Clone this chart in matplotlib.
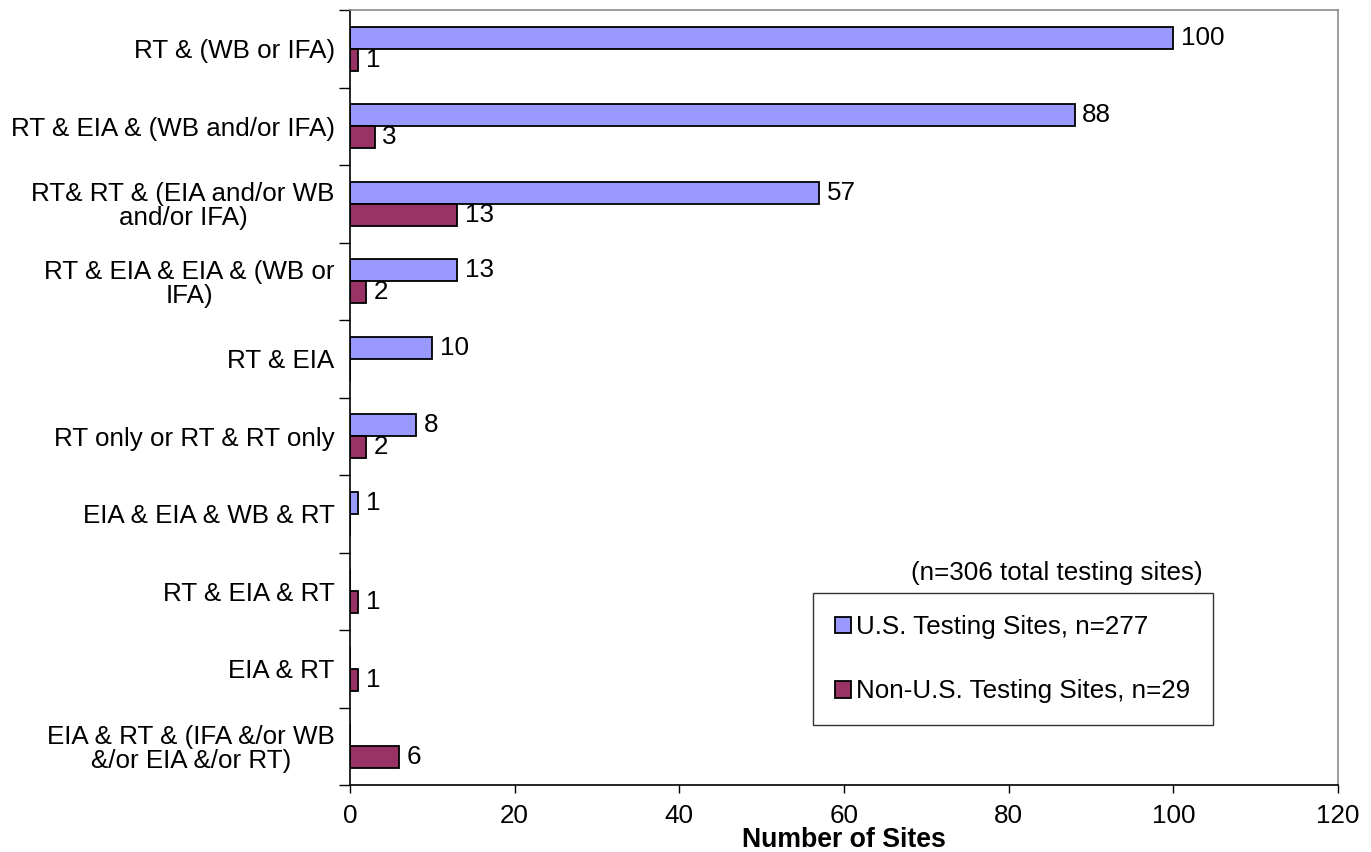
import matplotlib
matplotlib.use("Agg")
import matplotlib.pyplot as plt
import numpy as np

plt.rcParams['font.family'] = ['Liberation Sans', 'DejaVu Sans']

categories = [
    "RT & (WB or IFA)",
    "RT & EIA & (WB and/or IFA)",
    "RT& RT & (EIA and/or WB\nand/or IFA)",
    "RT & EIA & EIA & (WB or\nIFA)",
    "RT & EIA",
    "RT only or RT & RT only",
    "EIA & EIA & WB & RT",
    "RT & EIA & RT",
    "EIA & RT",
    "EIA & RT & (IFA &/or WB\n&/or EIA &/or RT)",
]
us_sites = [100, 88, 57, 13, 10, 8, 1, 0, 0, 0]
non_us_sites = [1, 3, 13, 2, 0, 2, 0, 1, 1, 6]
xticks = [0, 20, 40, 60, 80, 100, 120]

US_COLOR = "#9999FF"
NONUS_COLOR = "#993366"
FS = 18.7

W, H = 1371, 852
fig = plt.figure(figsize=(W / 100, H / 100), dpi=100)
ax = fig.add_axes([350 / W, 1 - 785 / H, (1338 - 350) / W, (785 - 10) / H])

n = len(categories)
y = np.arange(n)
bh = 0.284

b1 = ax.barh(y - bh / 2, us_sites, height=bh, color=US_COLOR, edgecolor="black",
             linewidth=1.3, label="U.S. Testing Sites, n=277")
b2 = ax.barh(y + bh / 2, non_us_sites, height=bh, color=NONUS_COLOR, edgecolor="black",
             linewidth=1.3, label="Non-U.S. Testing Sites, n=29")

for bars, vals in ((b1, us_sites), (b2, non_us_sites)):
    for rect, v in zip(bars, vals):
        if v > 0:
            ax.annotate(str(v), (v, rect.get_y() + rect.get_height() / 2),
                        xytext=(5.5, 0), textcoords="offset points",
                        ha="left", va="center", fontsize=FS)

ax.set_xlim(0, 120)
ax.set_ylim(n - 0.5, -0.5)
ax.set_xticks(xticks)
ax.set_xticklabels([str(t) for t in xticks], fontsize=FS)
ax.tick_params(axis="x", direction="out", length=6, width=1, pad=8)

ax.set_yticks(y)
ax.set_yticklabels(categories, fontsize=FS, ha="right", multialignment="center",
                   linespacing=1.0)
ax.tick_params(axis="y", which="major", length=0, pad=11)
ax.set_yticks(np.arange(-0.5, n + 0.5, 1), minor=True)
ax.tick_params(axis="y", which="minor", direction="out", length=8, width=1)

ax.set_xlabel("Number of Sites", fontsize=19.2, fontweight="bold", labelpad=-1)

for side in ("top", "right"):
    ax.spines[side].set_color("#8c8c8c")
    ax.spines[side].set_linewidth(1.2)
for side in ("left", "bottom"):
    ax.spines[side].set_color("black")
    ax.spines[side].set_linewidth(1.2)

leg = ax.legend(loc="upper left", bbox_to_anchor=(813 / W, 1 - 593 / H),
                bbox_transform=fig.transFigure, frameon=True, fancybox=False,
                fontsize=FS, handlelength=0.62, handleheight=0.62, handletextpad=0.2,
                labelspacing=1.55, borderpad=0.85, borderaxespad=0)
leg.get_frame().set_edgecolor("black")
leg.get_frame().set_linewidth(1.0)

fig.text(1203 / W, 1 - 573 / H, "(n=306 total testing sites)", ha="right",
         va="center", fontsize=FS)

fig.savefig("out.png", dpi=100)
